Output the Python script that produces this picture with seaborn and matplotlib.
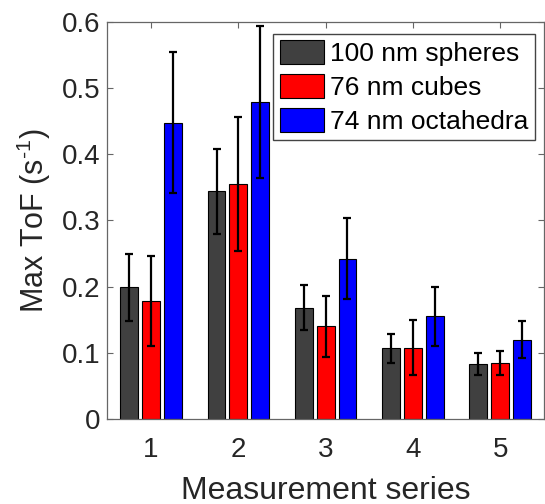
import numpy as np
import pandas as pd
import matplotlib
matplotlib.use("Agg")
import matplotlib.pyplot as plt
import seaborn as sns
from matplotlib.ticker import FuncFormatter

series = ["1", "2", "3", "4", "5"]
labels = ["100 nm spheres", "76 nm cubes", "74 nm octahedra"]
spheres = [0.199, 0.344, 0.168, 0.107, 0.083]
cubes = [0.179, 0.355, 0.140, 0.108, 0.084]
octahedra = [0.448, 0.479, 0.242, 0.155, 0.120]
spheres_err = [0.051, 0.064, 0.034, 0.022, 0.017]
cubes_err = [0.068, 0.101, 0.046, 0.042, 0.018]
octahedra_err = [0.107, 0.115, 0.061, 0.044, 0.028]
colors = ["#404040", "#ff0000", "#0000ff"]

sns.set_style("white")
plt.rcParams["font.family"] = ["Liberation Sans", "DejaVu Sans"]
plt.rcParams["mathtext.fontset"] = "custom"
plt.rcParams["mathtext.rm"] = "Liberation Sans"
plt.rcParams["mathtext.it"] = "Liberation Sans"

vals = [spheres, cubes, octahedra]
errs = [spheres_err, cubes_err, octahedra_err]
df = pd.DataFrame({
    "series": np.tile(series, 3),
    "kind": np.repeat(labels, len(series)),
    "value": np.concatenate(vals),
})

fig = plt.figure(figsize=(5.45, 5.04), dpi=100)
ax = fig.add_axes([0.197, 0.1687, 0.801, 0.7877])

sns.barplot(data=df, x="series", y="value", hue="kind", order=series,
            hue_order=labels, palette=colors, errorbar=None,
            width=0.75, gap=0.18, edgecolor="black", linewidth=0.8,
            saturation=1, ax=ax)

for cont, e in zip(ax.containers, errs):
    xs = [p.get_x() + p.get_width() / 2 for p in cont.patches]
    hs = [p.get_height() for p in cont.patches]
    ax.errorbar(xs, hs, yerr=e, fmt="none", ecolor="black",
                elinewidth=1.6, capsize=2.6, capthick=1.6)

ax.set_xlim(-0.5, 4.5)
ax.set_ylim(0, 0.6)
ax.set_yticks(np.arange(0, 0.61, 0.1))
ax.yaxis.set_major_formatter(FuncFormatter(lambda v, p: "0" if abs(v) < 1e-9 else f"{v:.1f}"))

spine_c = "#666666"
for s in ax.spines.values():
    s.set_visible(True)
    s.set_color(spine_c)
    s.set_linewidth(0.9)
ax.tick_params(axis="both", direction="in", length=4, width=0.8,
               color=spine_c, labelsize=20, labelcolor="#262626",
               top=True, right=True, bottom=True, left=True)
ax.tick_params(axis="x", pad=13)
ax.tick_params(axis="y", pad=5)

ax.set_xlabel("Measurement series", fontsize=23, color="#262626", labelpad=9)
ax.set_ylabel("Max ToF (s$^{\\text{-}1}$)", fontsize=22, color="#262626", labelpad=6)

leg = ax.legend(loc="upper right", bbox_to_anchor=(0.979, 0.970),
                borderaxespad=0, fontsize=19, frameon=True, fancybox=False,
                framealpha=1, edgecolor="#444444", handlelength=1.7,
                handleheight=1.0, handletextpad=0.2, labelspacing=0.3,
                borderpad=0.25, title=None)
leg.get_frame().set_linewidth(1.0)
for t in leg.get_texts():
    t.set_color("black")

fig.savefig("out.png", dpi=100)
